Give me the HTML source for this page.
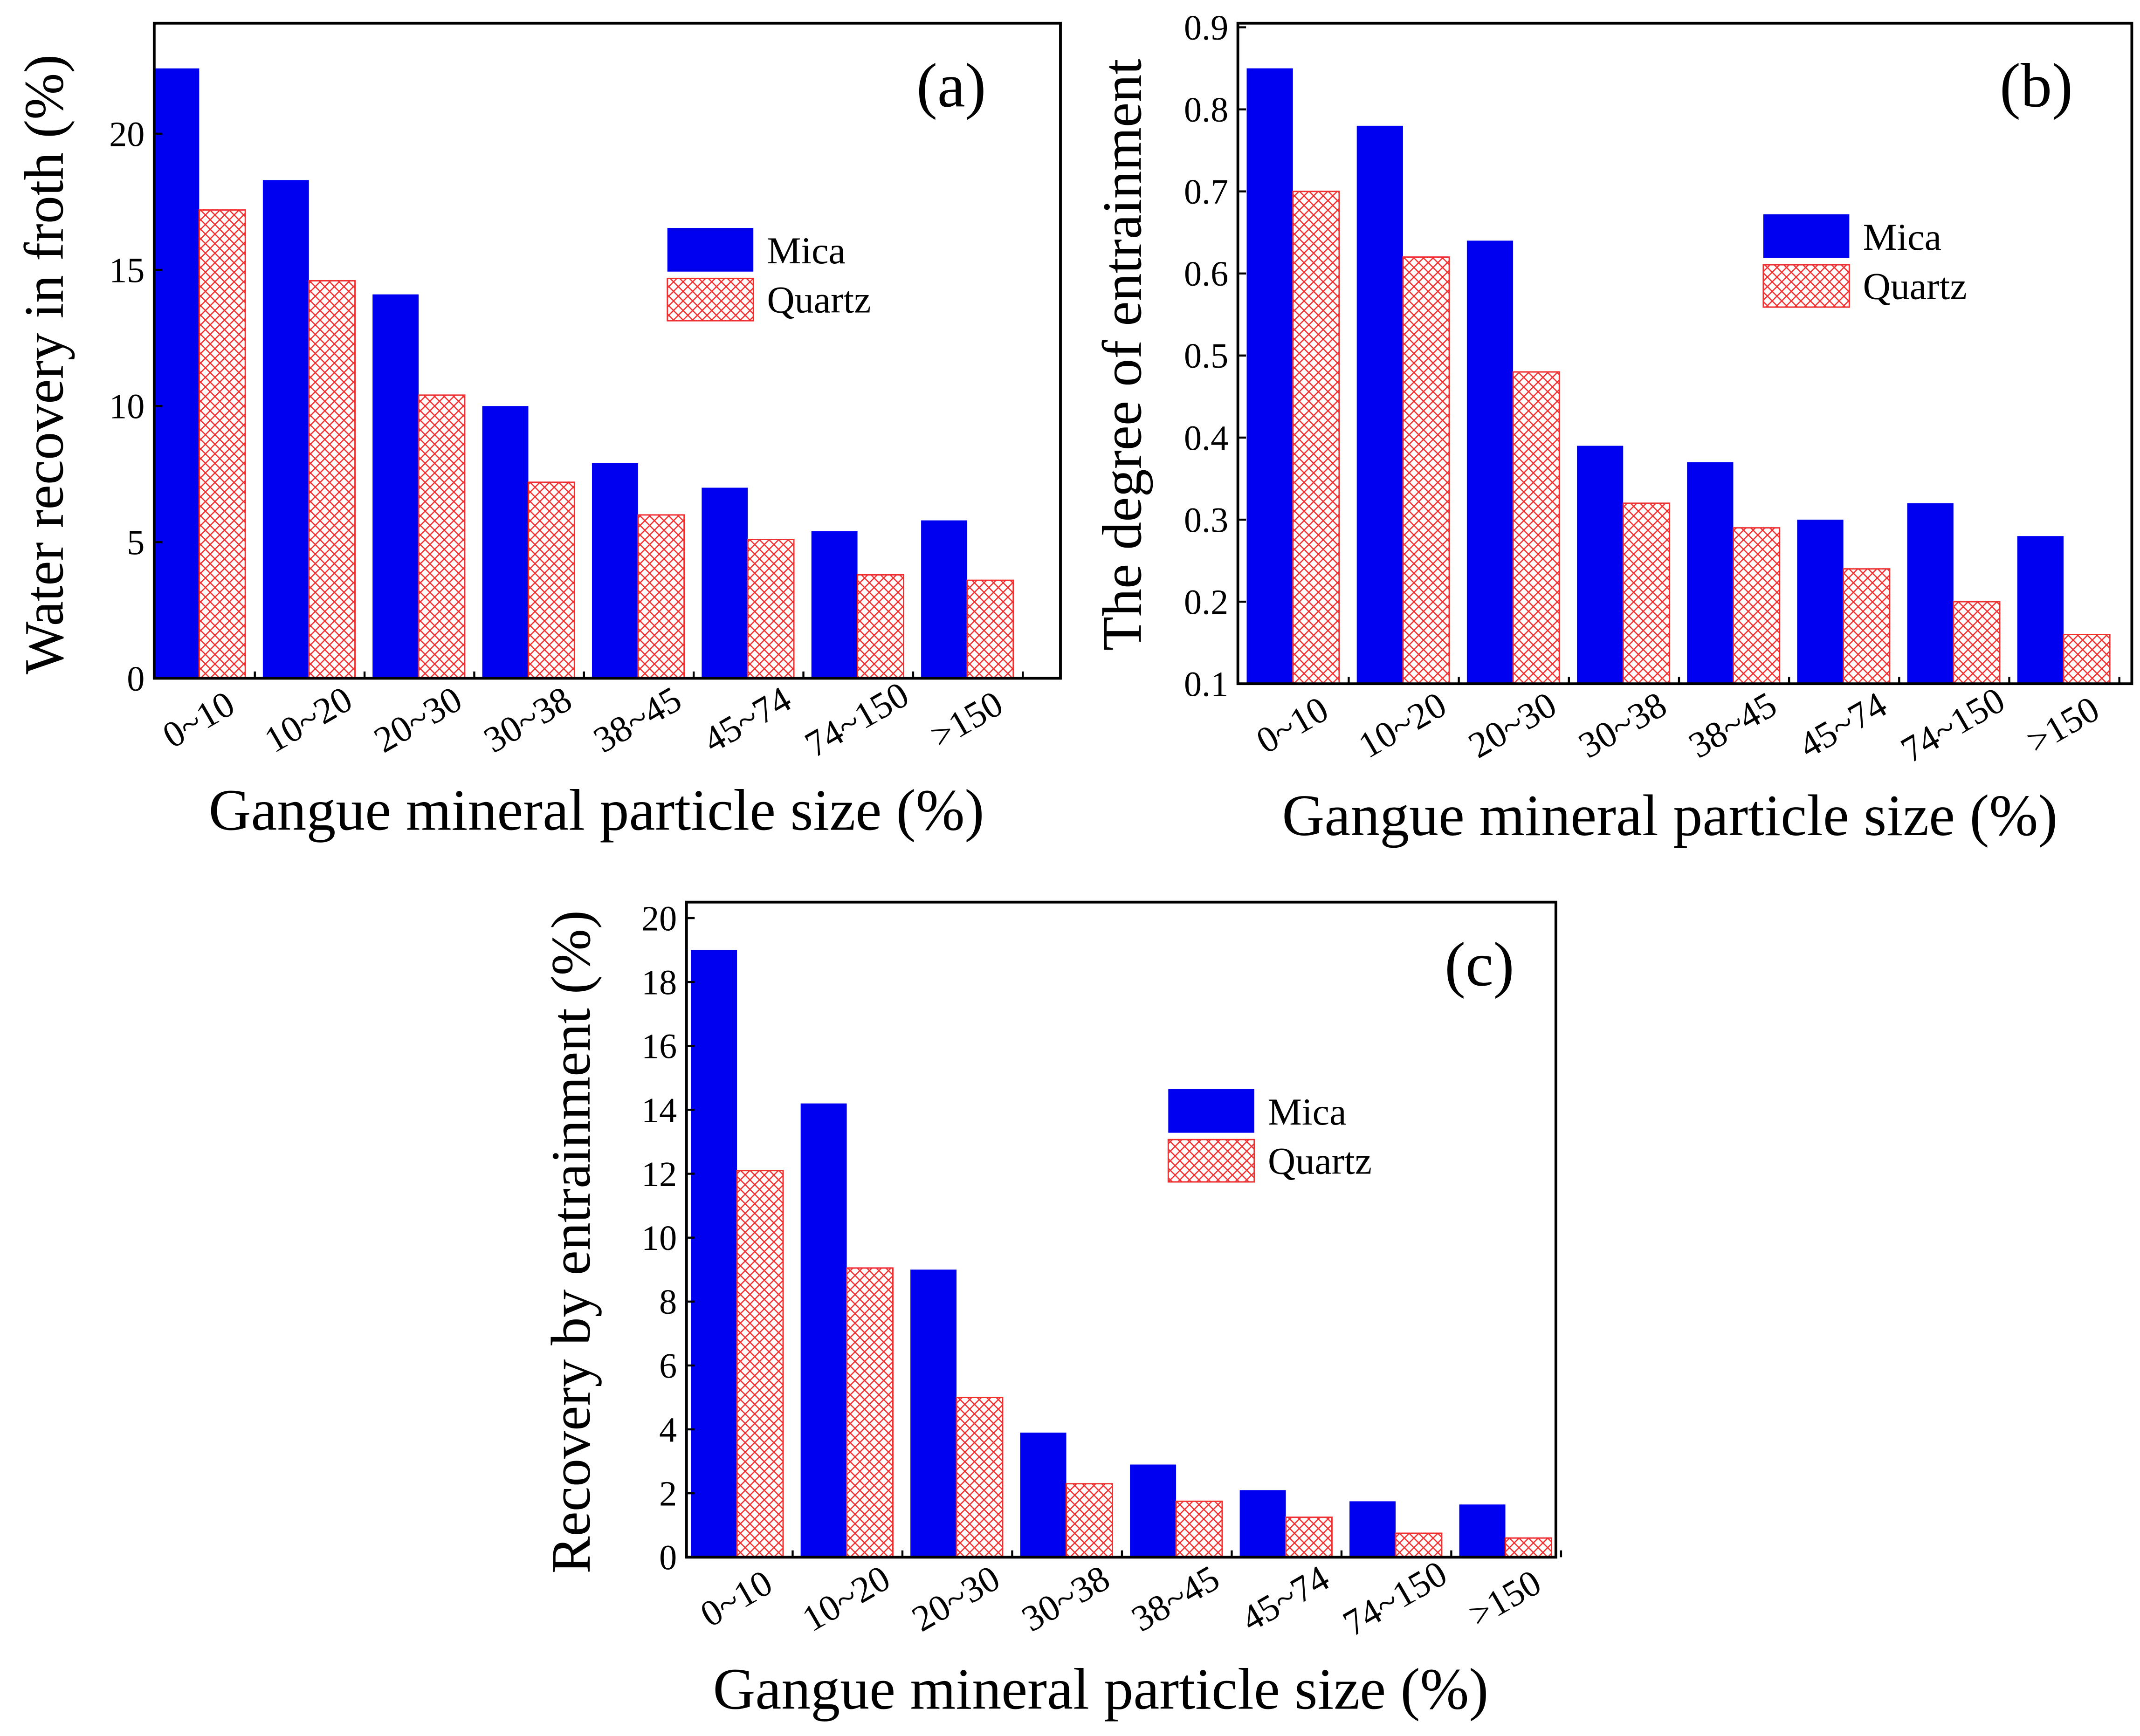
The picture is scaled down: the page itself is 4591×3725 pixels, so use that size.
<!DOCTYPE html>
<html><head><meta charset="utf-8">
<style>
html,body{margin:0;padding:0;background:#fff;}
svg{display:block;}
text{font-family:"Liberation Serif",serif;fill:#000;}
</style></head>
<body>
<svg id="fig" width="4591" height="3725" viewBox="0 0 1568 1272" preserveAspectRatio="none" xmlns="http://www.w3.org/2000/svg">
<defs>
<pattern id="hatch" patternUnits="userSpaceOnUse" width="7" height="7">
<rect width="7" height="7" fill="#fff"/>
<path d="M0,0 L7,7 M7,0 L0,7" stroke="#f03030" stroke-width="0.9"/>
</pattern>
</defs>
</svg>
<script>
const categories = ["0~10","10~20","20~30","30~38","38~45","45~74","74~150",">150"];
const micaA = [22.4,18.3,14.1,10.0,7.9,7.0,5.4,5.8];
const quartzA = [17.2,14.6,10.4,7.2,6.0,5.1,3.8,3.6];
const ticksA = [0,5,10,15,20];
const micaB = [0.85,0.78,0.64,0.39,0.37,0.30,0.32,0.28];
const quartzB = [0.70,0.62,0.48,0.32,0.29,0.24,0.20,0.16];
const ticksB = [0.1,0.2,0.3,0.4,0.5,0.6,0.7,0.8,0.9];
const micaC = [19.0,14.2,9.0,3.9,2.9,2.1,1.75,1.65];
const quartzC = [12.1,9.05,5.0,2.3,1.75,1.25,0.75,0.6];
const ticksC = [0,2,4,6,8,10,12,14,16,18,20];

const NS = "http://www.w3.org/2000/svg";
const svg = document.getElementById("fig");
function mk(tag, attrs, parent, txt){
  const e = document.createElementNS(NS, tag);
  for (const k in attrs) e.setAttribute(k, attrs[k]);
  if (txt !== undefined) e.textContent = txt;
  (parent||svg).appendChild(e);
  return e;
}

function panel(p){
  const g = mk("g", {});
  
  
  const x = v => p.left + (v - p.x0) / (p.x1 - p.x0) * (p.right - p.left);
  const y = v => p.bottom - (v - p.y0) / (p.y1 - p.y0) * (p.bottom - p.top);
  const bw = (x(1) - x(0)) * 0.42;
  categories.forEach((c, i) => {
    const m = mk("rect", {x: x(i) - bw, y: y(p.mica[i]), width: bw, height: y(p.y0) - y(p.mica[i]), fill: "#0000f0"}, g);
    
    
    const q = mk("rect", {x: x(i), y: y(p.quartz[i]), width: bw, height: y(p.y0) - y(p.quartz[i]), fill: "url(#hatch)", stroke: "#f03030", "stroke-width": 1}, g);
    
    
    const tx = x(i) + 4, ty = p.bottom + 38;
    const t = mk("text", {x: tx, y: ty, "font-size": 27, "text-anchor": "middle", transform: `rotate(-30 ${tx} ${ty})`}, g, c);
    
    
    mk("line", {x1: x(i) + bw + 7, x2: x(i) + bw + 7, y1: p.bottom, y2: p.bottom - 5, stroke: "#000", "stroke-width": 1.5}, g);
  });
  const fr = mk("rect", {x: p.left, y: p.top, width: p.right - p.left, height: p.bottom - p.top, fill: "none", stroke: "#000", "stroke-width": 2}, g);
  
  
  p.ticks.forEach(v => {
    mk("line", {x1: p.left, x2: p.left + 6, y1: y(v), y2: y(v), stroke: "#000", "stroke-width": 1.5}, g);
    const t = mk("text", {x: p.left - 7, y: y(v) + 9, "font-size": 26, "text-anchor": "end"}, g, p.fmt(v));
    
    
  });
  const yt = mk("text", {x: p.ytx, y: p.yty, "font-size": 41, "text-anchor": "middle", transform: `rotate(-90 ${p.ytx} ${p.yty})`}, g, p.ytitle);
  
  
  const xt = mk("text", {x: (p.left + p.right) / 2 + p.xtdx, y: p.bottom + 111, "font-size": 43, "text-anchor": "middle"}, g, "Gangue mineral particle size (%)");
  
  
  const lb = mk("text", {x: p.lx, y: p.ly, "font-size": 46, "text-anchor": "middle"}, g, "(" + p.id + ")");
  
  
  const lg = mk("g", {}, g);
  
  
  mk("rect", {x: p.legx, y: p.legy, width: 63, height: 32, fill: "#0000f0"}, lg);
  const l1 = mk("text", {x: p.legx + 73, y: p.legy + 26, "font-size": 28}, lg, "Mica");
  
  
  mk("rect", {x: p.legx, y: p.legy + 37, width: 63, height: 31, fill: "url(#hatch)", stroke: "#f03030", "stroke-width": 1}, lg);
  const l2 = mk("text", {x: p.legx + 73, y: p.legy + 62, "font-size": 28}, lg, "Quartz");
  
  
}

panel({id:"a", left:113, right:777, top:17, bottom:497, x0:-0.41, x1:7.85, y0:0, y1:24.06,
  mica:micaA, quartz:quartzA, ticks:ticksA, fmt:v=>String(v),
  ytitle:"Water recovery in froth (%)", ytx:46, yty:267, xtdx:-8, lx:697, ly:78, legx:489, legy:167});
panel({id:"b", left:907, right:1562, top:17, bottom:501, x0:-0.5, x1:7.62, y0:0.1, y1:0.905,
  mica:micaB, quartz:quartzB, ticks:ticksB, fmt:v=>v.toFixed(1),
  ytitle:"The degree of entrainment", ytx:836, yty:260, xtdx:-11, lx:1492, ly:78, legx:1292, legy:157});
panel({id:"c", left:503, right:1140, top:661, bottom:1141, x0:-0.46, x1:7.46, y0:0, y1:20.5,
  mica:micaC, quartz:quartzC, ticks:ticksC, fmt:v=>String(v),
  ytitle:"Recovery by entrainment (%)", ytx:432, yty:910, xtdx:-15, lx:1084, ly:722, legx:856, legy:798});
</script>
</body></html>
